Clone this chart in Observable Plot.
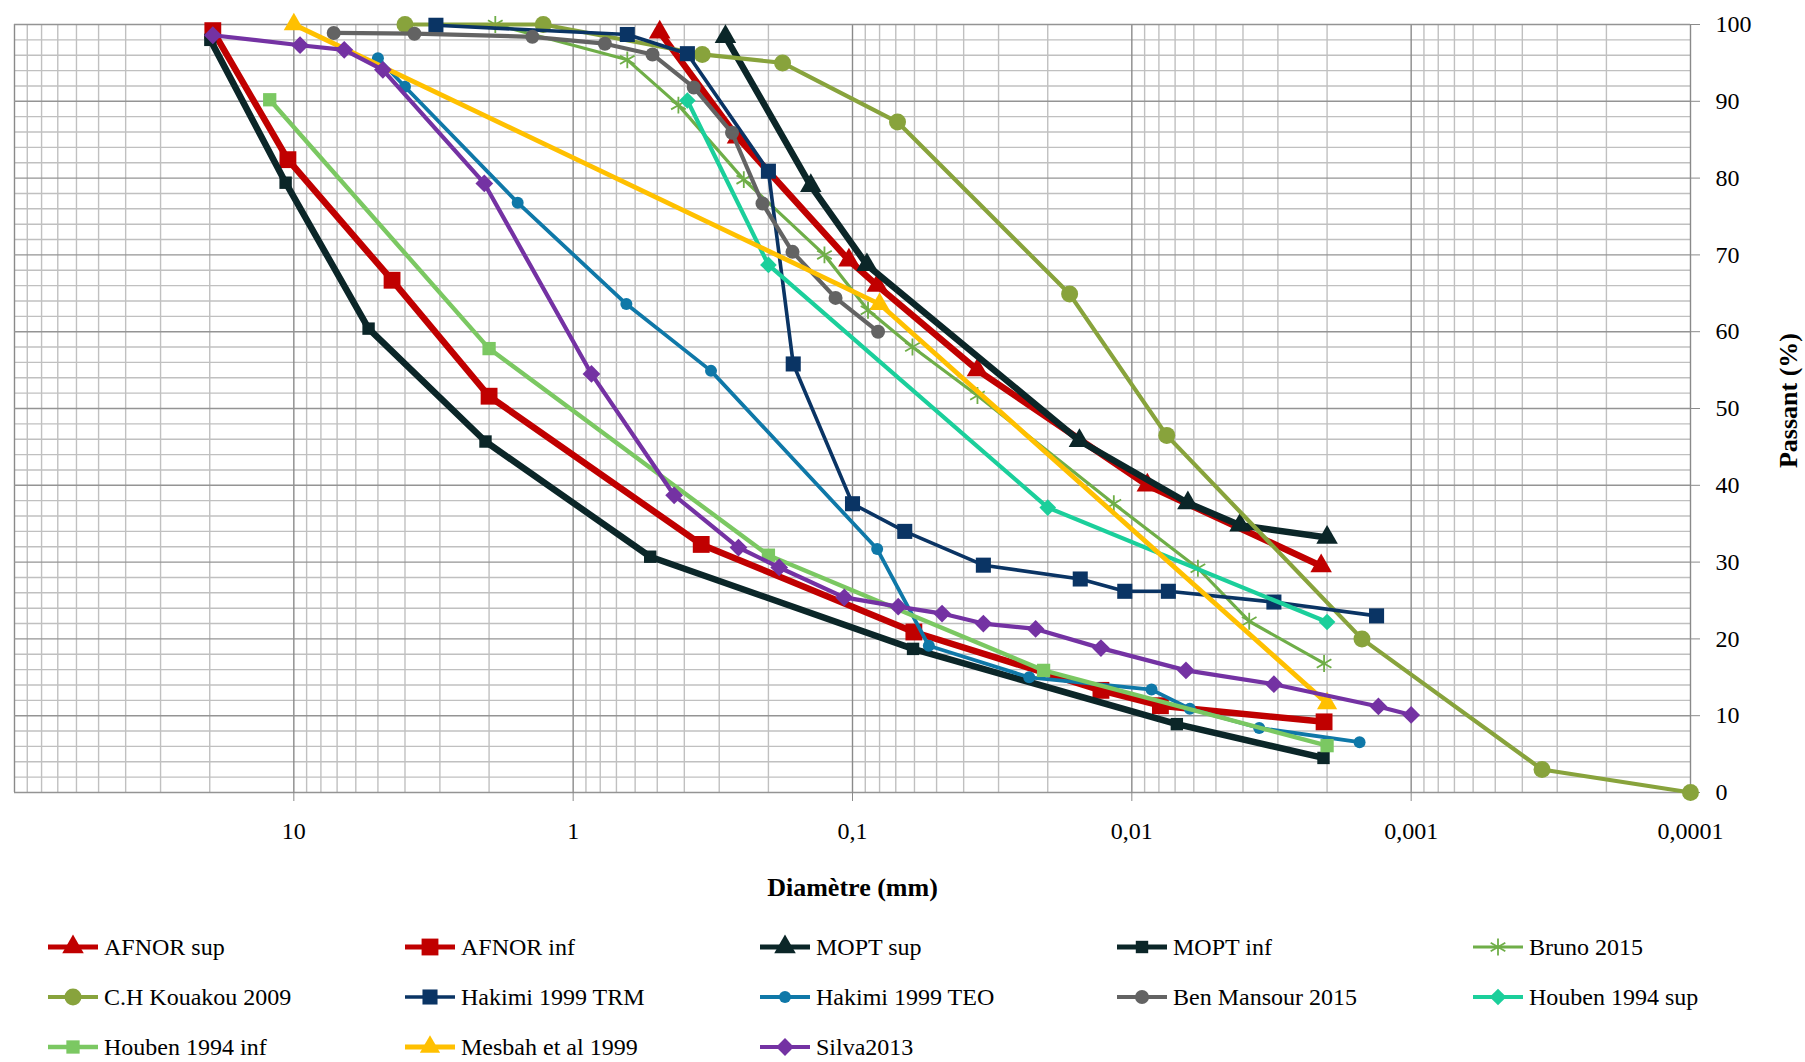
<!DOCTYPE html>
<html>
<head>
<meta charset="utf-8">
<script src="https://cdn.jsdelivr.net/npm/d3@7"></script>
<script src="https://cdn.jsdelivr.net/npm/@observablehq/plot@0.6"></script>
<style>
  body { margin: 0; background: #fff; }
  #legend { position: relative; width: 1805px; height: 147px; font-family: "Liberation Serif", serif; font-size: 24px; color: #000; }
  .item { position: absolute; display: flex; align-items: center; height: 50px; white-space: nowrap; }
  .item svg { display: block; margin-right: 6px; }
  #chart svg text { font-family: "Liberation Serif", serif; }
</style>
</head>
<body>
<div id="chart"></div>
<div id="legend"></div>
<script>
// Granulometric curves: diameter (mm) vs. percentage passing (%)
const afnorSup = [[0.49, 99], [0.258, 85.3], [0.103, 69.3], [0.0815, 66], [0.0357, 55], [0.0088, 40], [0.0021, 29.5]];
const afnorInf = [[19.5, 99.2], [10.5, 82.4], [4.45, 66.7], [2.0, 51.6], [0.348, 32.3], [0.0603, 20.9], [0.0129, 13.3], [0.0079, 11.3], [0.00205, 9.2]];
const moptSup = [[0.285, 98.4], [0.141, 79], [0.0888, 68.7], [0.0154, 45.8], [0.0063, 37.7], [0.0041, 34.8], [0.002, 33.2]];
const moptInf = [[19.9, 98], [10.7, 79.4], [5.4, 60.4], [2.06, 45.7], [0.53, 30.7], [0.0607, 18.7], [0.0069, 8.9], [0.00206, 4.5]];
const bruno2015 = [[1.9, 100], [0.64, 95.4], [0.42, 89.5], [0.245, 79.8], [0.126, 70], [0.088, 62.8], [0.061, 58], [0.0357, 51.7], [0.0116, 37.6], [0.0058, 29.2], [0.0038, 22.3], [0.00205, 16.8]];
const kouakou2009 = [[4.0, 100], [1.28, 100], [0.345, 96.1], [0.178, 95], [0.069, 87.3], [0.0167, 64.9], [0.0075, 46.5], [0.0015, 20], [0.00034, 3], [0.0001, 0]];
const hakimiTRM = [[3.1, 99.9], [0.64, 98.7], [0.39, 96.2], [0.2, 80.9], [0.163, 55.8], [0.1, 37.6], [0.065, 34], [0.034, 29.6], [0.0153, 27.8], [0.0106, 26.2], [0.0074, 26.2], [0.0031, 24.8], [0.00133, 23]];
const hakimiTEO = [[5.0, 95.6], [4.0, 91.9], [1.58, 76.8], [0.645, 63.6], [0.321, 54.9], [0.0816, 31.7], [0.0533, 19.1], [0.0233, 15.0], [0.0085, 13.4], [0.0062, 10.9], [0.0035, 8.4], [0.00153, 6.55]];
const benMansour2015 = [[7.2, 98.9], [3.7, 98.8], [1.4, 98.4], [0.77, 97.5], [0.52, 96.1], [0.37, 91.8], [0.27, 85.9], [0.21, 76.7], [0.164, 70.4], [0.115, 64.4], [0.081, 60]];
const houbenSup = [[0.39, 90.1], [0.2, 68.7], [0.02, 37.1], [0.002, 22.2]];
const houbenInf = [[12.2, 90.2], [2.0, 57.8], [0.2, 30.9], [0.0207, 15.9], [0.002, 6.1]];
const mesbah1999 = [[10, 100], [0.08, 63.6], [0.002, 11.6]];
const silva2013 = [[19.5, 98.6], [9.5, 97.3], [6.6, 96.7], [4.8, 94.1], [2.08, 79.3], [0.86, 54.5], [0.435, 38.7], [0.256, 31.9], [0.183, 29.3], [0.107, 25.4], [0.0686, 24.2], [0.0478, 23.3], [0.034, 22.0], [0.0221, 21.3], [0.0129, 18.8], [0.0064, 15.9], [0.0031, 14.1], [0.00131, 11.2], [0.001, 10.1]];

const seriesNames = ["AFNOR sup", "AFNOR inf", "MOPT sup", "MOPT inf", "Bruno 2015", "C.H Kouakou 2009", "Hakimi 1999 TRM", "Hakimi 1999 TEO", "Ben Mansour 2015", "Houben 1994 sup", "Houben 1994 inf", "Mesbah et al 1999", "Silva2013"];
const seriesData = [afnorSup, afnorInf, moptSup, moptInf, bruno2015, kouakou2009, hakimiTRM, hakimiTEO, benMansour2015, houbenSup, houbenInf, mesbah1999, silva2013];

// Axis ticks and labels
const xTicks = [10, 1, 0.1, 0.01, 0.001, 0.0001];
const xTickLabels = ["10", "1", "0,1", "0,01", "0,001", "0,0001"];
const yTicks = [0, 10, 20, 30, 40, 50, 60, 70, 80, 90, 100];

// Drawing styles, one per series (same order as seriesNames)
const styles = [
  {color: "#C00000", symbol: "triangle", r: 8,   width: 6.5},
  {color: "#C00000", symbol: "square",   r: 9.5, width: 6.5},
  {color: "#0B2628", symbol: "triangle", r: 8,   width: 6.5},
  {color: "#0B2628", symbol: "square",   r: 7,   width: 6.5},
  {color: "#6FAE48", symbol: "asterisk", r: 8,   width: 3.2, hollow: true},
  {color: "#88A33C", symbol: "circle",   r: 8.5, width: 4.2},
  {color: "#0A3464", symbol: "square",   r: 8.5, width: 3.6},
  {color: "#0F78A8", symbol: "circle",   r: 6,   width: 3.8},
  {color: "#636363", symbol: "circle",   r: 7,   width: 4.2},
  {color: "#1BCF9B", symbol: "diamond2", r: 7.5, width: 4.2},
  {color: "#7BC862", symbol: "square",   r: 7.5, width: 4.4},
  {color: "#FFC000", symbol: "triangle", r: 7.5, width: 4.8},
  {color: "#7432A3", symbol: "diamond2", r: 8,   width: 4.2}
];

// Grid positions (log decades for x, 2 % steps for y)
const decades = [10, 1, 0.1, 0.01, 0.001, 0.0001];
const multipliers = [2, 3, 4, 5, 6, 7, 8, 9];
const xMinor = decades.flatMap(d => multipliers.map(m => m * d));
const xMajor = [100, ...decades];
const yMinor = d3.range(0, 101, 2).filter(v => v % 10 !== 0);

const font = "Liberation Serif, serif";

const seriesMarks = seriesData.flatMap((data, i) => {
  const s = styles[i];
  return [
    Plot.line(data, {x: d => d[0], y: d => d[1], stroke: s.color, strokeWidth: s.width, strokeLinejoin: "round"}),
    Plot.dot(data, s.hollow
      ? {x: d => d[0], y: d => d[1], symbol: s.symbol, r: s.r, stroke: s.color, strokeWidth: 1.8, fill: "none"}
      : {x: d => d[0], y: d => d[1], symbol: s.symbol, r: s.r, fill: s.color, stroke: "none"})
  ];
});

const chart = Plot.plot({
  width: 1805,
  height: 915,
  marginLeft: 14,
  marginRight: 115,
  marginTop: 24,
  marginBottom: 123,
  x: {type: "log", domain: [100, 0.0001]},
  y: {domain: [0, 100]},
  style: {fontFamily: font, fontSize: "24px", color: "#000", background: "#fff"},
  marks: [
    Plot.ruleX(xMinor, {stroke: "#c0c0c0", strokeWidth: 1.4}),
    Plot.ruleY(yMinor, {stroke: "#c0c0c0", strokeWidth: 1.4}),
    Plot.ruleX(xMajor, {stroke: "#8a8a8a", strokeWidth: 1.4}),
    Plot.ruleY(yTicks, {stroke: "#949494", strokeWidth: 1.4}),
    Plot.axisX({ticks: xTicks, tickFormat: d => xTickLabels[xTicks.indexOf(d)], tickSize: 9, tickPadding: 20,
      stroke: "#8a8a8a", fill: "#000", fontSize: 24, fontFamily: font, label: null}),
    Plot.axisY({anchor: "right", ticks: yTicks, tickSize: 9, tickPadding: 16,
      stroke: "#8a8a8a", fill: "#000", fontSize: 24, fontFamily: font, label: null}),
    ...seriesMarks,
    Plot.text(["Diamètre (mm)"], {text: d => d, frameAnchor: "bottom", dy: 95, textAnchor: "middle", lineAnchor: "middle",
      fontWeight: "bold", fontSize: 26, fontFamily: font, fill: "#000"}),
    Plot.text(["Passant (%)"], {text: d => d, frameAnchor: "right", dx: 98, dy: -8, rotate: -90, textAnchor: "middle", lineAnchor: "middle",
      fontWeight: "bold", fontSize: 26, fontFamily: font, fill: "#000"})
  ]
});
document.getElementById("chart").appendChild(chart);

// Legend: 5 columns, 3 rows
const legend = d3.select("#legend");
const colX = [48, 405, 760, 1117, 1473];
seriesNames.forEach((name, i) => {
  const s = styles[i];
  const item = legend.append("div").attr("class", "item")
    .style("left", colX[i % 5] + "px")
    .style("top", (7 + Math.floor(i / 5) * 50) + "px");
  const svg = item.append("svg").attr("width", 50).attr("height", 30);
  svg.append("line").attr("x1", 0).attr("x2", 50).attr("y1", 15).attr("y2", 15)
    .attr("stroke", s.color).attr("stroke-width", Math.min(s.width, 5));
  const symbolType = {triangle: d3.symbolTriangle, square: d3.symbolSquare, circle: d3.symbolCircle,
    diamond2: d3.symbolDiamond2, asterisk: d3.symbolAsterisk}[s.symbol];
  const path = svg.append("path")
    .attr("transform", "translate(25,15)")
    .attr("d", d3.symbol(symbolType, Math.PI * s.r * s.r)());
  if (s.hollow) path.attr("fill", "none").attr("stroke", s.color).attr("stroke-width", 1.8);
  else path.attr("fill", s.color);
  item.append("span").text(name);
});
</script>
</body>
</html>
